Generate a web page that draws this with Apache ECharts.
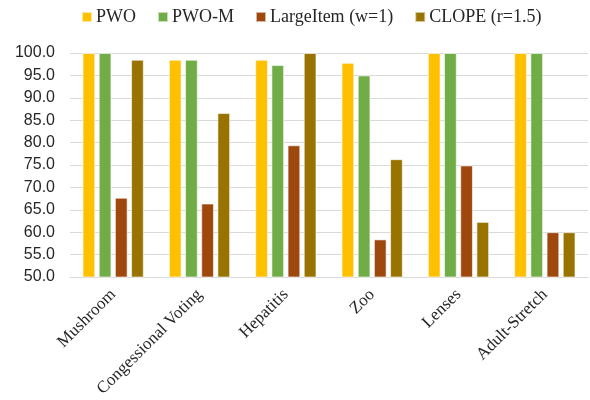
<!DOCTYPE html>
<html>
<head>
<meta charset="utf-8">
<script src="https://cdn.jsdelivr.net/npm/echarts@6/dist/echarts.min.js"></script>
<style>
  html, body { margin: 0; padding: 0; background: #fff; }
  #chart { width: 590px; height: 400px; }
</style>
</head>
<body>
<div id="chart"></div>
<script>
// Datasets on the horizontal axis
const categories = ['Mushroom', 'Congessional Voting', 'Hepatitis', 'Zoo', 'Lenses', 'Adult-Stretch'];

// Accuracy (%) for each method
const pwo       = [100.0, 98.5, 98.5, 97.8, 100.0, 100.0];
const pwoM      = [100.0, 98.5, 97.3, 95.0, 100.0, 100.0];
const largeItem = [67.7, 66.4, 79.4, 58.4, 74.9, 60.0];
const clope     = [98.5, 86.6, 100.0, 76.3, 62.3, 60.0];

const seriesNames = ['PWO', 'PWO-M', 'LargeItem (w=1)', 'CLOPE (r=1.5)'];
const seriesData = [pwo, pwoM, largeItem, clope];
const colors = ['#FFC000', '#70AD47', '#9E480E', '#997300'];

const serif = 'Liberation Serif, Times New Roman, serif';
const sans = 'Liberation Sans, Arial, sans-serif';

const chart = echarts.init(document.getElementById('chart'));
chart.setOption({
  animation: false,
  color: colors,
  textStyle: { fontFamily: serif },
  legend: {
    top: 3,
    left: 76,
    itemWidth: 10,
    itemHeight: 10,
    itemGap: 21,
    icon: 'rect',
    textStyle: { fontFamily: serif, fontSize: 18, color: '#262626', padding: [0, 0, 0, -1] },
    data: seriesNames
  },
  grid: { left: 70, right: 2, top: 53, bottom: 123, containLabel: false },
  xAxis: {
    type: 'category',
    data: categories,
    axisLine: { lineStyle: { color: '#d9d9d9' } },
    axisTick: { show: false },
    axisLabel: {
      rotate: 45,
      interval: 0,
      fontFamily: serif,
      fontSize: 17,
      color: '#262626',
      margin: 15
    }
  },
  yAxis: {
    type: 'value',
    min: 50,
    max: 100,
    interval: 5,
    axisLine: { show: false },
    axisTick: { show: false },
    splitLine: { lineStyle: { color: '#d9d9d9', width: 1 } },
    axisLabel: {
      fontFamily: sans,
      fontSize: 16,
      color: '#262626',
      margin: 15,
      formatter: v => v.toFixed(1)
    }
  },
  series: seriesNames.map((name, i) => ({
    name,
    type: 'bar',
    data: seriesData[i],
    barGap: '27%',
    barCategoryGap: '29%',
    itemStyle: { color: colors[i], borderColor: 'rgba(255,255,255,0.6)', borderWidth: 1 }
  }))
});
</script>
</body>
</html>
